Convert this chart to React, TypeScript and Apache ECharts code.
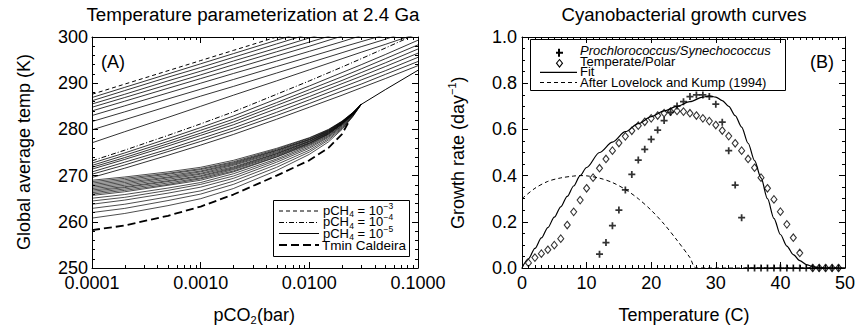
import React, { useEffect, useRef } from "react";
import * as echarts from "echarts";

// ---------- Panel A: temperature parameterization ----------
// pCO2 sample points (bar) at which each curve was read
const pco2X = [1e-4, 2e-4, 5e-4, 1e-3, 2e-3, 5e-3, 1e-2, 2e-2, 3e-2, 5e-2, 1e-1];
const ch4e3Dashed = [287.6, 289.8, 292.7, 294.9, 297.1, 300.0, 302.2];
const topFamily = [
  [286.9, 289.1, 292.0, 294.2, 296.4, 299.3, 301.5],
  [286.2, 288.4, 291.3, 293.4, 295.6, 298.5, 300.7],
  [285.5, 287.6, 290.5, 292.6, 294.8, 297.6, 299.8, 301.9],
  [284.8, 286.9, 289.7, 291.8, 294.0, 296.8, 298.9, 301.0],
  [284.0, 286.1, 288.9, 291.0, 293.1, 295.9, 298.0, 300.2],
  [283.0, 285.1, 287.9, 290.0, 292.1, 294.8, 296.9, 299.0, 300.3],
  [281.7, 283.8, 286.6, 288.7, 290.8, 293.6, 295.7, 297.8, 299.0, 300.5],
  [279.9, 282.1, 285.0, 287.2, 289.3, 292.2, 294.4, 296.6, 297.9, 299.5, 302.0],
  [277.1, 279.5, 282.6, 285.0, 287.4, 290.5, 292.9, 295.3, 296.7, 298.4, 300.8],
];
const ch4e4DashDot = [273.2, 275.5, 278.7, 281.2, 283.8, 287.6, 290.5, 293.5, 295.3, 297.6, 300.8];
const midFamily = [
  [272.7, 274.9, 278.0, 280.4, 282.9, 286.6, 289.4, 292.3, 294.0, 296.2, 299.3],
  [272.2, 274.4, 277.4, 279.8, 282.2, 285.8, 288.6, 291.4, 293.1, 295.3, 298.3],
  [271.8, 273.9, 276.9, 279.2, 281.6, 285.2, 287.9, 290.6, 292.3, 294.4, 297.4],
  [271.4, 273.5, 276.4, 278.7, 281.0, 284.5, 287.1, 289.9, 291.5, 293.6, 296.5],
  [270.8, 272.9, 275.7, 278.0, 280.3, 283.7, 286.4, 289.1, 290.7, 292.7, 295.6],
  [270.3, 272.3, 275.2, 277.4, 279.7, 283.0, 285.6, 288.3, 289.8, 291.9, 294.7],
  [269.6, 271.6, 274.4, 276.6, 278.9, 282.2, 284.8, 287.4, 289.0, 291.0, 293.8],
];
// curves that converge at pCO2 = 0.03 bar
const fanX = [1e-4, 2e-4, 5e-4, 1e-3, 2e-3, 5e-3, 1e-2, 1.5e-2, 2e-2, 2.5e-2, 3e-2];
const fanFamily = [
  [269.0, 269.7, 270.8, 271.8, 273.3, 275.9, 278.2, 280.0, 281.8, 283.6, 285.4],
  [268.7, 269.4, 270.5, 271.5, 273.0, 275.7, 278.1, 279.9, 281.7, 283.6, 285.4],
  [268.4, 269.1, 270.3, 271.3, 272.8, 275.5, 277.9, 279.8, 281.7, 283.5, 285.4],
  [268.1, 268.8, 270.0, 271.0, 272.6, 275.4, 277.8, 279.7, 281.6, 283.5, 285.4],
  [267.8, 268.5, 269.7, 270.8, 272.4, 275.2, 277.7, 279.6, 281.5, 283.5, 285.4],
  [267.5, 268.2, 269.5, 270.5, 272.2, 275.0, 277.5, 279.5, 281.5, 283.4, 285.4],
  [267.2, 267.9, 269.2, 270.3, 271.9, 274.8, 277.4, 279.4, 281.4, 283.4, 285.4],
  [266.9, 267.6, 268.9, 270.0, 271.7, 274.7, 277.3, 279.3, 281.3, 283.4, 285.4],
  [266.6, 267.4, 268.7, 269.8, 271.5, 274.5, 277.1, 279.2, 281.3, 283.3, 285.4],
  [266.3, 267.1, 268.4, 269.5, 271.3, 274.3, 277.0, 279.1, 281.2, 283.3, 285.4],
  [266.0, 266.8, 268.1, 269.3, 271.0, 274.1, 276.9, 279.0, 281.1, 283.3, 285.4],
  [265.7, 266.5, 267.9, 269.0, 270.8, 274.0, 276.7, 278.9, 281.1, 283.2, 285.4],
  [265.1, 265.9, 267.3, 268.5, 270.4, 273.6, 276.5, 278.7, 280.9, 283.2, 285.4],
  [264.5, 265.3, 266.8, 268.1, 269.9, 273.3, 276.2, 278.5, 280.8, 283.1, 285.4],
  [263.8, 264.7, 266.2, 267.5, 269.4, 272.9, 275.9, 278.3, 280.6, 283.0, 285.4],
  [262.9, 263.8, 265.4, 266.7, 268.8, 272.4, 275.5, 278.0, 280.4, 282.9, 285.4],
  [262.0, 262.9, 264.6, 266.0, 268.1, 271.8, 275.1, 277.7, 280.2, 282.8, 285.4],
  [260.8, 261.8, 263.5, 265.0, 267.2, 271.1, 274.6, 277.3, 280.0, 282.7, 285.4],
];
const mergedX = [3e-2, 5e-2, 1e-1];
const mergedCurve = [285.4, 288.6, 292.8];
const tminX = [1e-4, 2e-4, 5e-4, 1e-3, 2e-3, 5e-3, 1e-2, 1.5e-2, 2e-2, 2.3e-2];
const tminCaldeira = [258.2, 259.2, 261.3, 263.3, 265.9, 270.0, 273.3, 276.0, 279.0, 281.6];
const logDecades = [1e-4, 1e-3, 1e-2];
const logMinorMult = [2, 3, 4, 5, 6, 7, 8, 9];

// ---------- Panel B: cyanobacterial growth ----------
const proT = [12, 13, 14, 15, 16, 17, 18, 19, 20, 21, 22, 23, 24, 25, 26, 27, 28, 29, 30, 31, 32, 33, 34,
  35, 36, 37, 38, 39, 40, 41, 42, 43, 44, 45, 46, 47, 48, 49];
const proRate = [0.06, 0.11, 0.183, 0.251, 0.338, 0.405, 0.467, 0.514, 0.557, 0.597, 0.638, 0.674, 0.701,
  0.72, 0.742, 0.749, 0.749, 0.742, 0.709, 0.631, 0.508, 0.359, 0.218,
  0, 0, 0, 0, 0, 0, 0, 0, 0, 0, 0, 0, 0, 0, 0];
const polT = [1, 2, 3, 4, 5, 6, 7, 8, 9, 10, 11, 12, 13, 14, 15, 16, 17, 18, 19, 20, 21, 22, 23, 24, 25,
  26, 27, 28, 29, 30, 31, 32, 33, 34, 35, 36, 37, 38, 39, 40, 41, 42, 43, 45, 46, 47, 48, 49];
const polRate = [0.022, 0.045, 0.062, 0.079, 0.099, 0.127, 0.186, 0.243, 0.294, 0.345, 0.391, 0.432, 0.472,
  0.508, 0.541, 0.57, 0.594, 0.616, 0.633, 0.648, 0.66, 0.67, 0.677, 0.68, 0.677, 0.67, 0.66, 0.648,
  0.636, 0.619, 0.595, 0.571, 0.54, 0.508, 0.472, 0.434, 0.391, 0.345, 0.297, 0.244, 0.189, 0.131,
  0.065, 0, 0, 0, 0, 0];
const fitT = [0, 1, 2, 3, 4, 5, 6, 7, 8, 9, 10, 12, 14, 16, 18, 20, 22, 24, 26, 28, 29, 30, 31, 32, 33,
  34, 35, 36, 37, 38, 39, 40, 41, 42, 43, 44, 45, 46, 47, 50];
const fitRate = [0, 0.04, 0.085, 0.13, 0.175, 0.22, 0.265, 0.31, 0.355, 0.4, 0.435, 0.5, 0.545, 0.59,
  0.625, 0.655, 0.68, 0.7, 0.72, 0.74, 0.745, 0.74, 0.725, 0.7, 0.66, 0.61, 0.54, 0.465, 0.39, 0.3,
  0.215, 0.145, 0.095, 0.058, 0.032, 0.015, 0.006, 0.001, 0, 0];
const lkT = [0, 2, 4, 6, 8, 9, 10, 12, 14, 16, 18, 20, 22, 24, 26, 27, 50];
const lkRate = [0.3, 0.345, 0.375, 0.39, 0.398, 0.4, 0.399, 0.389, 0.37, 0.34, 0.3, 0.25, 0.19, 0.12,
  0.045, 0, 0];

const FONT = "'Liberation Sans', Arial, Helvetica, sans-serif";
const BLACK = "#000";
const PLUS = "path://M3,0H5V3H8V5H5V8H3V5H0V3H3Z";

const zip = (xs: number[], ys: number[]) => ys.map((y, i) => [xs[i], y]);

function lineA(xs: number[], ys: number[], style: any = {}, z = 2) {
  return {
    type: "line",
    xAxisIndex: 0,
    yAxisIndex: 0,
    data: zip(xs, ys),
    symbol: "none",
    smooth: false,
    silent: true,
    clip: true,
    lineStyle: { color: BLACK, width: 0.8, ...style },
    z,
  };
}

const baseTick = (len: number) => ({ show: true, inside: true, length: len, lineStyle: { color: BLACK, width: 1 } });
const axisLine = { show: true, onZero: false, lineStyle: { color: BLACK, width: 1 } };
const labelStyle = { color: BLACK, fontSize: 18, fontFamily: FONT };

export default function App() {
  const ref = useRef<HTMLDivElement>(null);
  useEffect(() => {
    if (!ref.current) return;
    const chart = echarts.init(ref.current, undefined, { renderer: "svg" });

    const minorLog: number[][] = [];
    logDecades.forEach((d) => logMinorMult.forEach((m) => minorLog.push([d * m, 250])));

    const series: any[] = [];
    series.push(lineA(pco2X, ch4e3Dashed, { type: [4, 3], width: 1 }, 3));
    topFamily.forEach((c) => series.push(lineA(pco2X, c)));
    series.push(lineA(pco2X, ch4e4DashDot, { type: [5, 2, 1, 2], width: 1 }, 3));
    midFamily.forEach((c) => series.push(lineA(pco2X, c)));
    fanFamily.forEach((c) => series.push(lineA(fanX, c, { width: 0.7 })));
    series.push(lineA(mergedX, mergedCurve, { width: 1 }));
    series.push(lineA(tminX, tminCaldeira, { type: [8, 4], width: 1.8 }, 3));
    series.push({
      type: "custom",
      xAxisIndex: 0,
      yAxisIndex: 0,
      data: minorLog,
      encode: { x: 0, y: 1 },
      silent: true,
      clip: false,
      renderItem: (params: any, api: any) => {
        const b = api.coord([api.value(0), 250]);
        const t = api.coord([api.value(0), 300]);
        const x = Math.round(b[0]) + 0.5;
        return {
          type: "group",
          children: [
            { type: "line", shape: { x1: x, y1: b[1], x2: x, y2: b[1] - 3 }, style: { stroke: BLACK, lineWidth: 1 } },
            { type: "line", shape: { x1: x, y1: t[1], x2: x, y2: t[1] + 3 }, style: { stroke: BLACK, lineWidth: 1 } },
          ],
        };
      },
    });

    // Panel B
    series.push({
      type: "line", xAxisIndex: 2, yAxisIndex: 2, data: zip(lkT, lkRate), symbol: "none",
      smooth: 0.3, silent: true, lineStyle: { color: BLACK, width: 1, type: [4, 3] },
    });
    series.push({
      type: "line", xAxisIndex: 2, yAxisIndex: 2, data: zip(fitT, fitRate), symbol: "none",
      smooth: 0.3, smoothMonotone: "x", silent: true, lineStyle: { color: BLACK, width: 1.2 },
    });
    series.push({
      type: "scatter", xAxisIndex: 2, yAxisIndex: 2, data: zip(polT, polRate), symbol: "diamond",
      symbolSize: [6, 7.5], clip: false, silent: true,
      itemStyle: { color: "transparent", borderColor: BLACK, borderWidth: 1.1 }, z: 3,
    });
    series.push({
      type: "scatter", xAxisIndex: 2, yAxisIndex: 2, data: zip(proT, proRate), symbol: PLUS,
      symbolSize: 7, clip: false, silent: true, itemStyle: { color: BLACK }, z: 4,
    });

    const gText = (x: number, y: number, text: string, size: number, extra: any = {}) => ({
      type: "text", x, y, silent: true, rotation: extra.rotation || 0,
      style: {
        text, fill: BLACK, fontSize: size, fontFamily: FONT, fontStyle: extra.fontStyle || "normal",
        align: extra.align || "center", verticalAlign: "middle",
      },
    });
    const gLine = (x1: number, y1: number, x2: number, y2: number, dash: any = null, w = 1) => ({
      type: "line", silent: true, shape: { x1, y1, x2, y2 },
      style: { stroke: BLACK, lineWidth: w, lineDash: dash },
    });
    // "pCH4 = 10^e" with real sub/superscripts
    const ch4Label = (y: number, exp: string) => [
      gText(323, y, "pCH", 13, { align: "left" }),
      gText(349.3, y + 4, "4", 8.5, { align: "left" }),
      gText(354, y, " = 10", 13, { align: "left" }),
      gText(383.5, y - 4.5, "\u2212" + exp, 8.5, { align: "left" }),
    ];

    const graphic: any[] = [
      gText(253, 14, "Temperature parameterization at 2.4 Ga", 18.8),
      gText(684, 14, "Cyanobacterial growth curves", 18.6),
      // x-axis names
      gText(213.5, 315, "pCO", 18, { align: "left" }),
      gText(250.5, 320, "2", 11, { align: "left" }),
      gText(257, 315, "(bar)", 18, { align: "left" }),
      gText(684, 315, "Temperature (C)", 18),
      // y-axis names
      gText(24, 152, "Global average temp (K)", 18, { rotation: Math.PI / 2 }),
      {
        type: "group", x: 458, y: 153, rotation: Math.PI / 2, silent: true,
        children: [
          gText(-76, 0, "Growth rate (day", 18, { align: "left" }),
          gText(58, -6, "\u22121", 11, { align: "left" }),
          gText(70.5, 0, ")", 18, { align: "left" }),
        ],
      },
      gText(113, 62, "(A)", 18),
      gText(822, 62, "(B)", 18),
      // legend A
      { type: "rect", silent: true, shape: { x: 273.5, y: 200.5, width: 136, height: 56 }, style: { fill: "none", stroke: BLACK, lineWidth: 1 } },
      gLine(279, 211, 319, 211, [4, 3]),
      gLine(279, 222.5, 319, 222.5, [5, 2, 1, 2]),
      gLine(279, 233.5, 319, 233.5),
      gLine(279, 245, 319, 245, [8, 4], 1.8),
      ...ch4Label(210, "3"),
      ...ch4Label(221.5, "4"),
      ...ch4Label(233, "5"),
      gText(322, 245, "Tmin Caldeira", 13.5, { align: "left" }),
      // legend B
      { type: "rect", silent: true, shape: { x: 530.5, y: 39.5, width: 255, height: 51 }, style: { fill: "none", stroke: BLACK, lineWidth: 1 } },
      gLine(540, 72.3, 577, 72.3, null, 1.2),
      gLine(540, 82.5, 577, 82.5, [4, 3]),
      gText(580, 50.5, "Prochlorococcus/Synechococcus", 13, { align: "left", fontStyle: "italic" }),
      gText(580, 61.3, "Temperate/Polar", 13, { align: "left" }),
      gText(580, 71.5, "Fit", 13, { align: "left" }),
      gText(580, 82.5, "After Lovelock and Kump (1994)", 13, { align: "left" }),
    ];
    graphic.push({
      type: "polygon", silent: true,
      shape: { points: [[556, 51.7], [558, 51.7], [558, 48.7], [560, 48.7], [560, 51.7], [563, 51.7], [563, 53.7], [560, 53.7], [560, 56.7], [558, 56.7], [558, 53.7], [556, 53.7]] },
      style: { fill: BLACK },
    });
    graphic.push({
      type: "polygon", silent: true,
      shape: { points: [[559.5, 59.5], [562.5, 63.2], [559.5, 67], [556.5, 63.2]] },
      style: { fill: "none", stroke: BLACK, lineWidth: 1.1 },
    });

    const option: any = {
      animation: false,
      textStyle: { fontFamily: FONT },
      grid: [
        { left: 92, top: 37, width: 326, height: 231 },
        { left: 522, top: 37, width: 325, height: 231 },
      ],
      xAxis: [
        {
          type: "log", logBase: 10, gridIndex: 0, min: 1e-4, max: 0.1, position: "bottom",
          axisLine, axisTick: baseTick(6), splitLine: { show: false },
          axisLabel: { ...labelStyle, margin: 6, formatter: (v: number) => Number(v).toFixed(4) },
        },
        {
          type: "log", logBase: 10, gridIndex: 0, min: 1e-4, max: 0.1, position: "top",
          axisLine, axisTick: baseTick(6), splitLine: { show: false }, axisLabel: { show: false },
        },
        {
          type: "value", gridIndex: 1, min: 0, max: 50, interval: 10, position: "bottom",
          axisLine, axisTick: baseTick(6), splitLine: { show: false },
          minorTick: { show: true, splitNumber: 10, length: 3, lineStyle: { color: BLACK, width: 1 } },
          axisLabel: { ...labelStyle, margin: 6 },
        },
        {
          type: "value", gridIndex: 1, min: 0, max: 50, interval: 10, position: "top",
          axisLine, axisTick: baseTick(6), splitLine: { show: false },
          minorTick: { show: true, splitNumber: 10, length: 3, lineStyle: { color: BLACK, width: 1 } },
          axisLabel: { show: false },
        },
      ],
      yAxis: [
        {
          type: "value", gridIndex: 0, min: 250, max: 300, interval: 10, position: "left",
          axisLine, axisTick: baseTick(6), splitLine: { show: false },
          minorTick: { show: true, splitNumber: 5, length: 3, lineStyle: { color: BLACK, width: 1 } },
          axisLabel: { ...labelStyle, margin: 4 },
        },
        {
          type: "value", gridIndex: 0, min: 250, max: 300, interval: 10, position: "right",
          axisLine, axisTick: baseTick(6), splitLine: { show: false },
          minorTick: { show: true, splitNumber: 5, length: 3, lineStyle: { color: BLACK, width: 1 } },
          axisLabel: { show: false },
        },
        {
          type: "value", gridIndex: 1, min: 0, max: 1, interval: 0.2, position: "left",
          axisLine, axisTick: baseTick(6), splitLine: { show: false },
          minorTick: { show: true, splitNumber: 4, length: 3, lineStyle: { color: BLACK, width: 1 } },
          axisLabel: { ...labelStyle, margin: 5, formatter: (v: number) => v.toFixed(1) },
        },
        {
          type: "value", gridIndex: 1, min: 0, max: 1, interval: 0.2, position: "right",
          axisLine, axisTick: baseTick(6), splitLine: { show: false },
          minorTick: { show: true, splitNumber: 4, length: 3, lineStyle: { color: BLACK, width: 1 } },
          axisLabel: { show: false },
        },
      ],
      series,
      graphic,
    };
    chart.setOption(option);
    return () => chart.dispose();
  }, []);
  return <div ref={ref} style={{ position: "absolute", left: 0, top: 0, width: 858, height: 331, background: "#fff" }} />;
}
